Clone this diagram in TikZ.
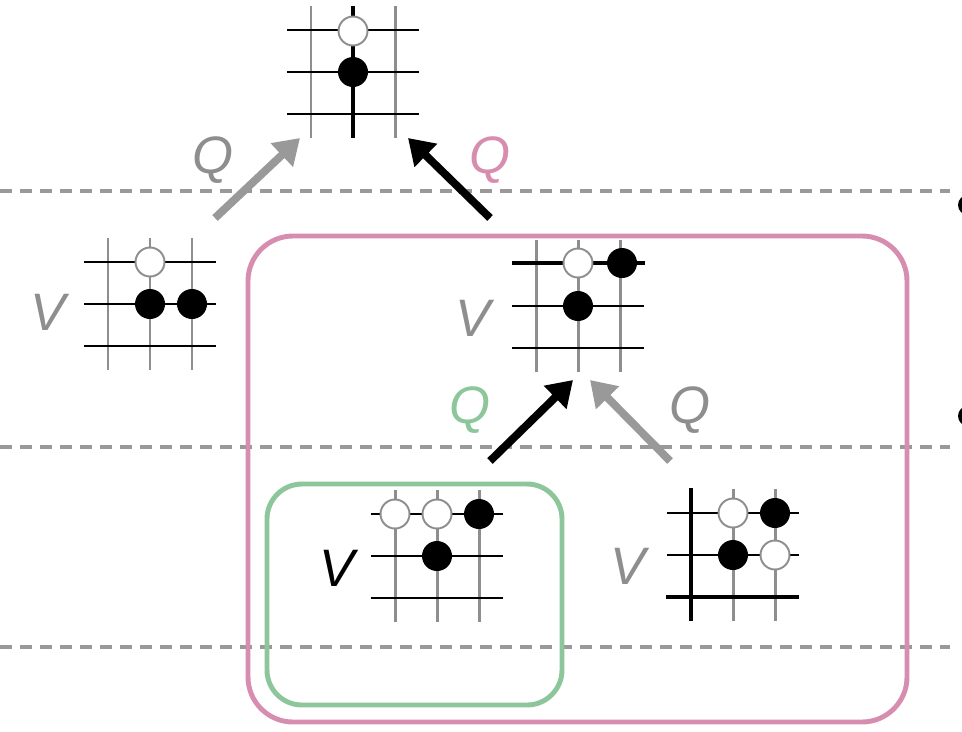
\documentclass[tikz,border=0pt]{standalone}
\usepackage{fontspec}
\setmainfont{Liberation Sans}
\usetikzlibrary{arrows.meta}

\definecolor{qpink}{HTML}{D78DB0}
\definecolor{qgreen}{HTML}{8CC69A}
\definecolor{lgray}{HTML}{8E8E8E}
\definecolor{agray}{HTML}{999999}

% 3x3 piece of a go board around the point (#1,#2)
\newcommand{\goboard}[2]{%
  \foreach \d in {-42,0,42}
    \draw[vline] ({#1+\d},{#2-66})--({#1+\d},{#2+66});
  \foreach \d in {-42,0,42}
    \draw[hline] ({#1-66},{#2+\d})--({#1+66},{#2+\d});
}
\newcommand{\bstone}[2]{\fill (#1,#2) circle (15);}
\newcommand{\wstone}[2]{\draw[wst] (#1,#2) circle (14.5);}

\begin{document}
\begin{tikzpicture}[x=0.02cm, y=-0.02cm, line join=round,
    font=\fontsize{30}{30}\selectfont\itshape,
    vline/.style={line width=1.7pt, lgray},
    hline/.style={line width=1.1pt, black},
    edge/.style={line width=2.2pt, black},
    wst/.style={fill=white, draw=lgray, line width=1.1pt},
    level/.style={dashed, dash pattern=on 0.24cm off 0.16cm, line width=2pt, agray},
    qarrow/.style={line width=4.5pt, -{Triangle[length=0.5cm, width=0.62cm]}},
    frame/.style={line width=2.8pt, rounded corners=0.9cm}]
  \useasboundingbox (0,0) rectangle (962,731);

  % levels
  \foreach \y in {191,447,647}
    \draw[level] (0,\y)--(950,\y);

  % boxes
  \draw[frame, qpink] (248,236) rectangle (907,722);
  \draw[frame, qgreen, rounded corners=0.7cm] (267,484) rectangle (562,705);

  % top position
  \goboard{353}{72}
  \draw[edge] (353,6)--(353,138);
  \wstone{353}{31} \bstone{353}{72}

  % left position
  \goboard{150}{304}
  \wstone{150}{262} \bstone{150}{304} \bstone{192}{304}
  \node[lgray] (vl) at (48,312) {V};

  % middle position
  \goboard{578}{306}
  \draw[edge] (512,263)--(645,263);
  \wstone{578}{263} \bstone{622}{263} \bstone{578}{306}
  \node[lgray] (vm) at (473,318) {V};

  % bottom left position
  \goboard{437}{556}
  \wstone{395}{514} \wstone{437}{514} \bstone{479}{514} \bstone{437}{556}
  \node (vb) at (337,568) {V};

  % bottom right position
  \goboard{733}{555}
  \draw[edge] (691,488)--(691,621);
  \draw[edge] (666,597)--(799,597);
  \wstone{733}{513} \bstone{775}{513} \bstone{733}{555} \wstone{775}{555}
  \node[lgray] (vr) at (628,566) {V};

  % arrows
  \coordinate (t1) at (215,218); \coordinate (h1) at (300,138);
  \coordinate (t2) at (490,218); \coordinate (h2) at (408,138);
  \coordinate (t3) at (490,461); \coordinate (h3) at (573,380);
  \coordinate (t4) at (670,461); \coordinate (h4) at (590,380);
  \draw[qarrow, agray] (t1)--(h1);
  \draw[qarrow, black] (t2)--(h2);
  \draw[qarrow, black] (t3)--(h3);
  \draw[qarrow, agray] (t4)--(h4);
  \node[lgray] (q1) at (213,160) {Q};
  \node[qpink] (q2) at (490,160) {Q};
  \node[qgreen] (q3) at (470,410) {Q};
  \node[lgray] (q4) at (690,410) {Q};

  % bullets at the edge
  \fill (968,205) circle (10);
  \fill (968,416) circle (10);
\end{tikzpicture}
\end{document}
